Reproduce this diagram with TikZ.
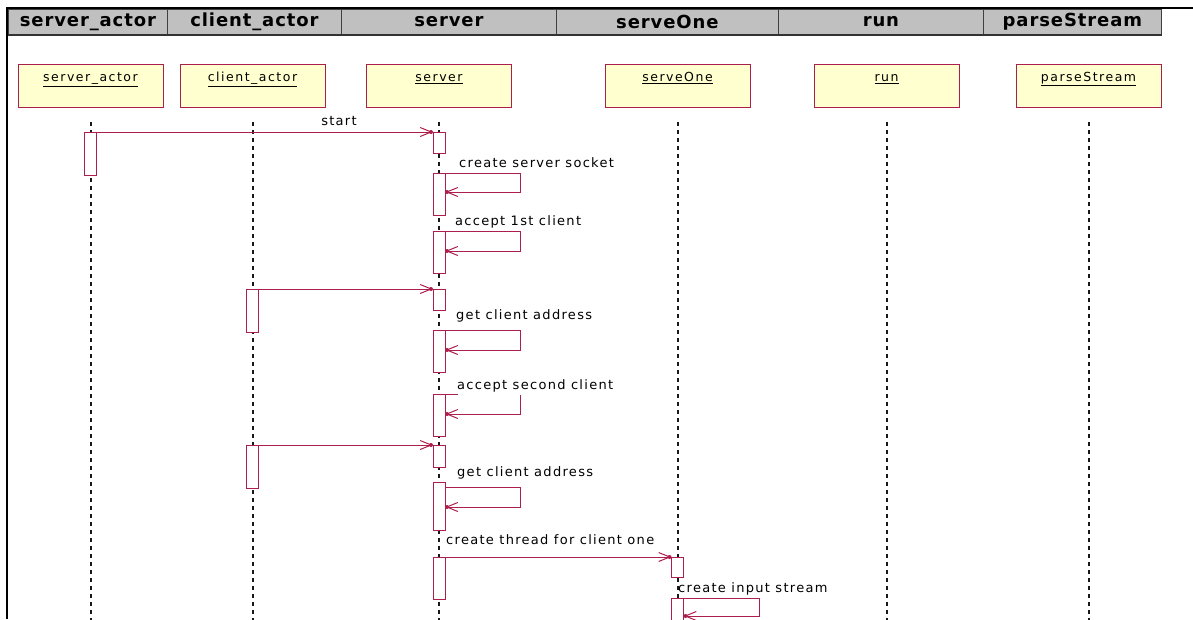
\documentclass[tikz,border=0pt]{standalone}
\usepackage{fontspec}
\setmainfont{DejaVu Sans}
\newfontfamily\hdrfont{DejaVu Sans}[LetterSpace=5]
\newfontfamily\lblfont{DejaVu Sans}[LetterSpace=10]
\newfontfamily\objfont{DejaVu Sans}[LetterSpace=12]
\usetikzlibrary{arrows.meta,calc,decorations.markings}
\definecolor{umlred}{RGB}{172,30,76}
\definecolor{umlfill}{RGB}{255,255,208}
\definecolor{hdrgray}{RGB}{192,192,192}
\begin{document}
\begin{tikzpicture}[x=1pt,y=-1pt,
  hdr/.style={draw=black!75, fill=hdrgray, line width=0.8pt, minimum height=25pt, inner sep=0pt, anchor=north west, font=\hdrfont\bfseries\fontsize{18}{20}\selectfont},
  obj/.style={draw=umlred, fill=umlfill, line width=1pt, minimum width=145pt, minimum height=43pt, anchor=north, inner xsep=2pt, inner ysep=4pt, text height=13pt, text depth=22pt, font=\objfont\fontsize{12.5}{14}\selectfont},
  act/.style={draw=umlred, fill=white, line width=1pt, minimum width=12pt, inner sep=0pt, anchor=north},
  life/.style={black!90, line width=2pt, dash pattern=on 3.5pt off 4.5pt},
  msg/.style={umlred, line width=1pt, -{Straight Barb[length=11pt,width=9pt,line width=1pt]}, decoration={markings, mark=at position 1 with {\fill[umlred] (-1.5pt,0) circle (2pt);}}, postaction=decorate},
  plain/.style={umlred, line width=1pt},
  lbl/.style={anchor=base west, inner sep=0pt, font=\lblfont\fontsize{13}{15}\selectfont},
]
\useasboundingbox (0,0) rectangle (1193,619);
\clip (0,0) rectangle (1193,619);
% frame
\draw[line width=2pt] (6,8) -- (1193,8);
\draw[line width=2pt] (7,8) -- (7,619);
% header
\node[hdr, minimum width=159pt] (c1) at (8,9) {server\_actor};
\node[hdr, minimum width=174pt] (c2) at (167,9) {client\_actor};
\node[hdr, minimum width=215pt] (c3) at (341,9) {server};
\node[hdr, minimum width=222pt] (c4) at (556,9) {serveOne};
\node[hdr, minimum width=205pt] (c5) at (778,9) {run};
\node[hdr, minimum width=178pt] (c6) at (983,9) {parseStream};
\draw[line width=2pt, black!80] (c1.south west) -- (c6.south east);
% object heads
\node[obj] (h1) at (90.5,64) {\underline{server\_actor}};
\node[obj] (h2) at (252.5,64) {\underline{client\_actor}};
\node[obj] (h3) at (439,64) {\underline{server}};
\node[obj] (h4) at (677.5,64) {\underline{serveOne}};
\node[obj] (h5) at (886.5,64) {\underline{run}};
\node[obj] (h6) at (1088.5,64) {\underline{parseStream}};
% lifelines
\foreach \h in {h1,h2,h3,h4,h5,h6}{
  \draw[life] ($(\h.south)+(0,14)$) -- ($(\h.south)+(0,520)$);
}
% activations
\node[act, minimum height=43pt] (A0) at (90.5,132) {};
\node[act, minimum height=21pt] (S1) at (439,132) {};
\node[act, minimum height=42pt] (S2) at (439,173) {};
\node[act, minimum height=42pt] (S3) at (439,231) {};
\node[act, minimum height=43pt] (C1) at (252.5,289) {};
\node[act, minimum height=21pt] (S4) at (439,289) {};
\node[act, minimum height=42pt] (S5) at (439,330) {};
\node[act, minimum height=42pt] (S6) at (439,394) {};
\node[act, minimum height=43pt] (C2) at (252.5,445) {};
\node[act, minimum height=22pt] (S7) at (439,445) {};
\node[act, minimum height=48pt] (S8) at (439,482) {};
\node[act, minimum height=42pt] (S9) at (439,557) {};
\node[act, minimum height=20pt] (O1) at (677.5,557) {};
\node[act, minimum height=40pt] (O2) at (677.5,598) {};
% messages
\draw[msg] (A0.north east) -- (S1.north west);
\node[lbl, anchor=base] (l1) at (339,125) {start};
\draw[msg] (S2.north east) -- ++(75,0) -- ++(0,19) -- ($(S2.north east)+(0,19)$);
\node[lbl] (l2) at (459,167) {create server socket};
\draw[msg] (S3.north east) -- ++(75,0) -- ++(0,20) -- ($(S3.north east)+(0,20)$);
\node[lbl] (l3) at (455,225) {accept 1st client};
\draw[msg] (C1.north east) -- (S4.north west);
\draw[msg] (S5.north east) -- ++(75,0) -- ++(0,20) -- ($(S5.north east)+(0,20)$);
\node[lbl] (l4) at (456,319) {get client address};
\draw[plain] (S6.north east) -- ++(12,0);
\draw[msg] ($(S6.north east)+(75,1)$) -- ++(0,19) -- ($(S6.north east)+(0,20)$);
\node[lbl] (l5) at (457,389) {accept second client};
\draw[msg] (C2.north east) -- (S7.north west);
\draw[msg] ($(S8.north east)+(0,5)$) -- ++(75,0) -- ++(0,20) -- ($(S8.north east)+(0,25)$);
\node[lbl] (l6) at (457,476) {get client address};
\draw[msg] (S9.north east) -- (O1.north west);
\node[lbl] (l7) at (446,544) {create thread for client one};
\draw[msg] (O2.north east) -- ++(75,0) -- ++(0,18) -- ($(O2.north east)+(0,18)$);
\node[lbl] (l8) at (678,592) {create input stream};
\end{tikzpicture}
\end{document}
